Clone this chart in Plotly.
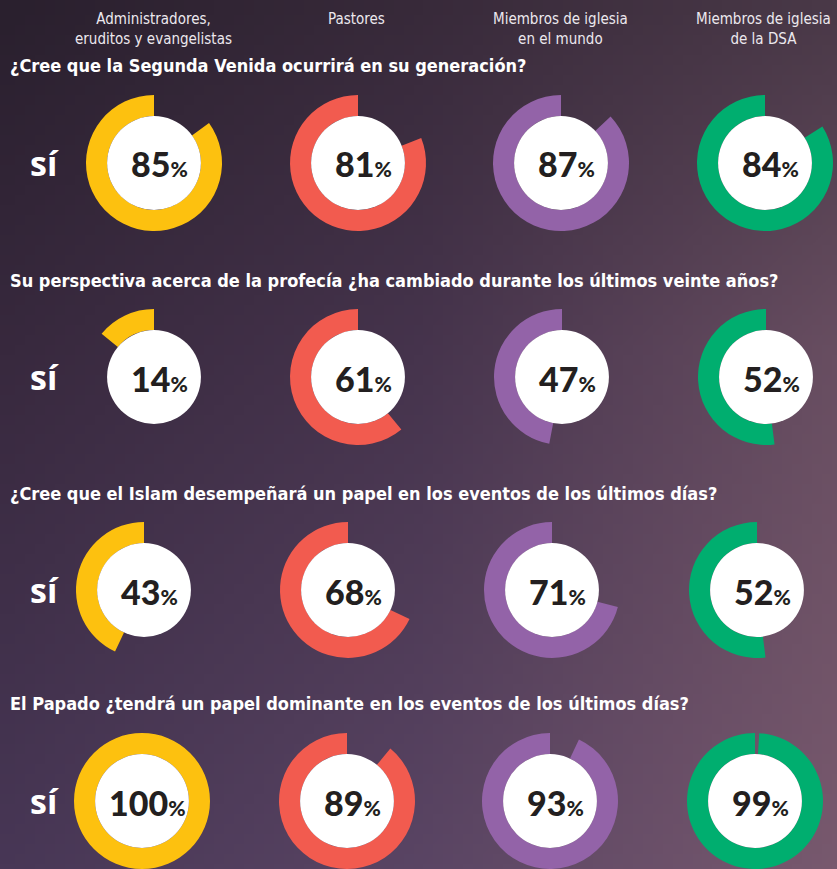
import zlib, struct, base64
import numpy as np
import plotly.graph_objects as go

W, H = 837, 869

# ---------------- data ----------------
groups = ["Administradores,<br>eruditos y evangelistas", "Pastores",
          "Miembros de iglesia<br>en el mundo", "Miembros de iglesia<br>de la DSA"]
questions = [
    "¿Cree que la Segunda Venida ocurrirá en su generación?",
    "Su perspectiva acerca de la profecía ¿ha cambiado durante los últimos veinte años?",
    "¿Cree que el Islam desempeñará un papel en los eventos de los últimos días?",
    "El Papado ¿tendrá un papel dominante en los eventos de los últimos días?",
]
answer_label = "sí"
q1_si = [85, 81, 87, 84]
q2_si = [14, 61, 47, 52]
q3_si = [43, 68, 71, 52]
q4_si = [100, 89, 93, 99]
rows = [q1_si, q2_si, q3_si, q4_si]

# ---------------- styling / layout ----------------
colors = ["#FDC10F", "#F25B4F", "#9363A8", "#00AE6F"]
row_cy = [163, 377, 590, 801]
row_cx = [[154, 358, 561, 765], [154, 358, 562, 766], [144, 348, 552, 757], [142, 347, 550, 755]]
q_y = [66, 280, 493, 703]
header_x = [153, 356, 560, 763]
R = 68
HOLE = 0.69

COND = "Liberation Sans Narrow, DejaVu Sans Condensed, Arial Narrow, sans-serif"


def px(x):
    return x / W


def py(y):
    return 1 - y / H


# background gradient image (decorative)
def bg_uri():
    gx = np.array([0.0, 0.5, 1.0])
    gy = np.array([0.0, 0.4, 1.0])
    grid = np.array([
        [[0x2a, 0x20, 0x2e], [0x38, 0x2a, 0x3a], [0x4a, 0x39, 0x48]],
        [[0x38, 0x29, 0x3e], [0x46, 0x34, 0x4d], [0x68, 0x4e, 0x61]],
        [[0x48, 0x37, 0x56], [0x5a, 0x45, 0x64], [0x78, 0x59, 0x6e]],
    ], dtype=float)
    w, h = 84, 87
    xs = np.linspace(0, 1, w)
    ys = np.linspace(0, 1, h)
    img = np.zeros((h, w, 3))
    for c in range(3):
        tmp = np.array([np.interp(xs, gx, grid[i, :, c]) for i in range(3)])  # 3 x w
        img[:, :, c] = np.array([np.interp(ys, gy, tmp[:, j]) for j in range(w)]).T
    arr = np.clip(img, 0, 255).astype(np.uint8)
    raw = b"".join(b"\x00" + arr[i].tobytes() for i in range(h))

    def chunk(t, d):
        return struct.pack(">I", len(d)) + t + d + struct.pack(">I", zlib.crc32(t + d) & 0xffffffff)

    png = (b"\x89PNG\r\n\x1a\n" + chunk(b"IHDR", struct.pack(">IIBBBBB", w, h, 8, 2, 0, 0, 0))
           + chunk(b"IDAT", zlib.compress(raw)) + chunk(b"IEND", b""))
    return "data:image/png;base64," + base64.b64encode(png).decode()


fig = go.Figure()
shapes = []
annotations = []

for ri, vals in enumerate(rows):
    cy = row_cy[ri]
    for ci, v in enumerate(vals):
        cx = row_cx[ri][ci]
        # empty part first (clockwise from 12 o'clock), so the coloured arc ends at 12 o'clock
        fig.add_trace(go.Pie(
            values=[100 - v, v],
            marker=dict(colors=["rgba(0,0,0,0)", colors[ci]], line=dict(width=0)),
            hole=HOLE, sort=False, direction="clockwise", rotation=0,
            textinfo="none", hoverinfo="skip", showlegend=False,
            domain=dict(x=[px(cx - R), px(cx + R)], y=[max(0, py(cy + R)), py(cy - R)]),
        ))
        rw = R * HOLE
        shapes.append(dict(type="circle", xref="paper", yref="paper",
                           x0=px(cx - rw), x1=px(cx + rw), y0=py(cy + rw), y1=py(cy - rw),
                           fillcolor="white", line=dict(width=0), layer="above"))
        annotations.append(dict(
            x=px(cx + 5), y=py(cy + 1), xref="paper", yref="paper", showarrow=False,
            xanchor="center", yanchor="middle",
            text=f"{v}<span style='font-size:21px'>%</span>",
            font=dict(family="Lato, Open Sans, sans-serif", size=34, color="#231f20", weight=900),
        ))
    annotations.append(dict(
        x=px(44), y=py(cy), xref="paper", yref="paper", showarrow=False,
        xanchor="center", yanchor="middle", text=answer_label,
        font=dict(family="Open Sans, sans-serif", size=34, color="white", weight=700),
    ))
    annotations.append(dict(
        x=px(8), y=py(q_y[ri]), xref="paper", yref="paper", showarrow=False,
        xanchor="left", yanchor="middle", text=questions[ri],
        font=dict(family=COND, size=18, color="white", weight=700),
    ))

for gi, g in enumerate(groups):
    annotations.append(dict(
        x=px(header_x[gi]), y=py(8), xref="paper", yref="paper", showarrow=False,
        xanchor="center", yanchor="top", text=g, align="center",
        font=dict(family=COND, size=15, color="#ece8ee"),
    ))

fig.update_layout(
    width=W, height=H, margin=dict(l=0, r=0, t=0, b=0),
    paper_bgcolor="#3a2c40", plot_bgcolor="rgba(0,0,0,0)",
    shapes=shapes, annotations=annotations,
    images=[dict(source=bg_uri(), xref="paper", yref="paper", x=0, y=1, sizex=1, sizey=1,
                 sizing="stretch", layer="below", xanchor="left", yanchor="top")],
)

fig.write_html("out.html", config={"displayModeBar": False},
               post_script="document.body.style.margin='0';document.body.style.overflow='hidden';")
